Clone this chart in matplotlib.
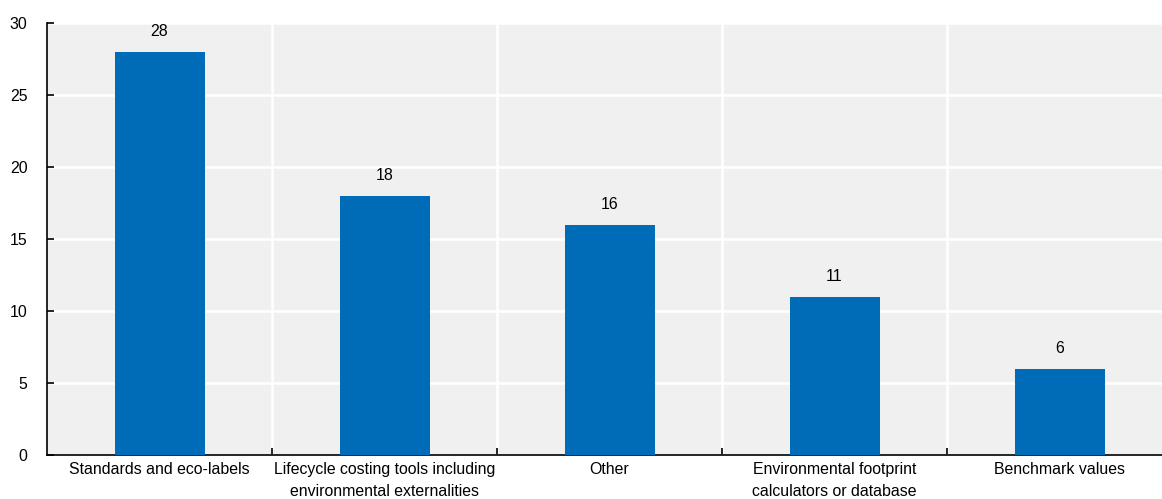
import numpy as np
import matplotlib.pyplot as plt

# Data
categories = ["Standards and eco-labels",
              "Lifecycle costing tools including\nenvironmental externalities",
              "Other",
              "Environmental footprint\ncalculators or database",
              "Benchmark values"]
values = [28, 18, 16, 11, 6]

plt.rcParams['font.family'] = ['Liberation Sans', 'DejaVu Sans']
fs = 11.4

fig = plt.figure(figsize=(11.62, 4.99), dpi=100)
W, H = 1162, 499
ax = fig.add_axes([47 / W, 44 / H, 1115 / W, 432 / H])
ax.set_facecolor("#f0f0f0")

x = np.arange(len(categories))
ax.bar(x, values, width=0.4, color="#006bb6", zorder=3)

# value labels above the bars
for xi, v in zip(x, values):
    ax.text(xi, v + 0.9, str(v), ha="center", va="bottom", fontsize=fs, color="#000000")

ax.set_ylim(0, 30)
ax.set_yticks(np.arange(0, 31, 5))
ax.set_xlim(-0.5, -0.5 + 1115 / 225)

# category boundaries as minor ticks / vertical grid
bounds = np.arange(0.5, len(categories) - 0.5, 1)
ax.set_xticks(x)
ax.set_xticklabels(categories, fontsize=fs, linespacing=1.55)
ax.set_xticks(bounds, minor=True)
ax.tick_params(axis="x", which="major", length=0, pad=5)
ax.tick_params(axis="x", which="minor", direction="in", length=5, width=1.2, color="black")
ax.tick_params(axis="y", direction="in", length=5, width=1.2, labelsize=fs, pad=14)

ax.grid(axis="y", color="white", linewidth=1.8, zorder=1)
ax.grid(axis="x", which="minor", color="white", linewidth=1.8, zorder=1)
ax.set_axisbelow(True)

for s in ["top", "right"]:
    ax.spines[s].set_visible(False)
ax.spines["left"].set_linewidth(1.2)
ax.spines["bottom"].set_linewidth(1.2)

fig.savefig("out.png", dpi=100)
